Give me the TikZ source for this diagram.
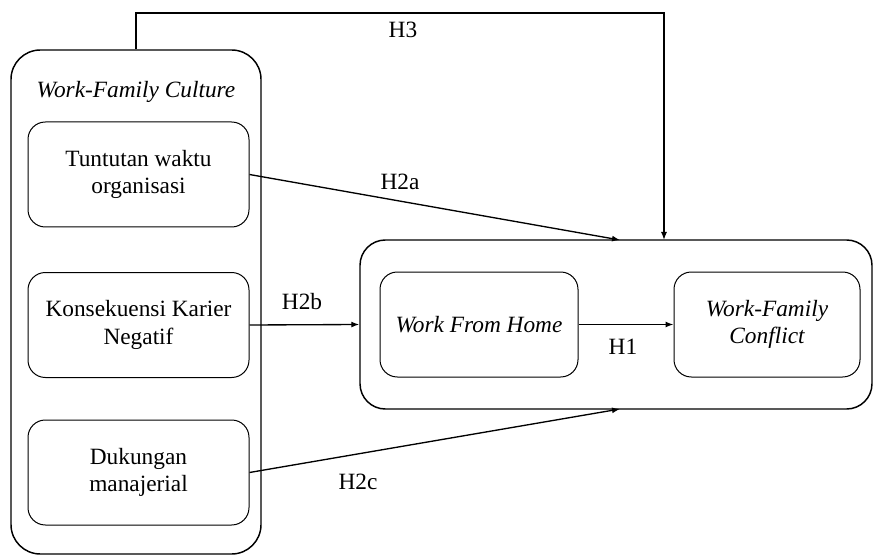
\documentclass[tikz,border=0pt]{standalone}
\usepackage{fontspec}
\setmainfont{Liberation Serif}
\usetikzlibrary{arrows.meta}
\begin{document}
\begin{tikzpicture}[x=0.75pt,y=-0.75pt,
  every node/.style={font=\fontsize{17.5}{20.5}\selectfont},
  outerbox/.style={draw,line width=1.1pt,rounded corners=22pt,inner sep=0pt},
  innerbox/.style={draw,line width=0.75pt,rounded corners=13pt,minimum width=165.75pt,minimum height=78.75pt,inner sep=0pt,align=center},
  conn/.style={line width=1pt,-{Latex[length=6pt,width=4.5pt]}},
  lbl/.style={inner sep=0pt}]
\useasboundingbox (0,0) rectangle (882,556);
\node[outerbox,minimum width=187.5pt,minimum height=378pt] (wfcul) at (136,302) {};
\node[lbl,font=\fontsize{17.5}{20.5}\selectfont\itshape] (title) at (136,92) {Work-Family Culture};
\node[innerbox] (tut) at (138.5,174.5) {Tuntutan waktu\\organisasi};
\node[innerbox] (kon) at (138.5,325) {Konsekuensi Karier\\Negatif};
\node[innerbox] (duk) at (138.5,472.5) {Dukungan\\manajerial};
\node[outerbox,rounded corners=19pt,minimum width=384pt,minimum height=126.75pt] (big) at (616,324.5) {};
\node[innerbox,minimum width=148.5pt,font=\fontsize{17.5}{20.5}\selectfont\itshape] (wfh) at (479,324.5) {Work From Home};
\node[innerbox,minimum width=139.5pt,font=\fontsize{17.5}{20.5}\selectfont\itshape] (wfc) at (767,324.5) {Work-Family\\Conflict};
\coordinate (a2) at (620,240);
\coordinate (a3) at (664,240);
\coordinate (c2) at (620,409);
\draw[conn] (wfcul.north) |- (664,13) -- (a3);
\draw[conn] (tut.east) -- (a2);
\draw[conn] (kon.east) -- (big.west);
\draw[conn] (duk.east) -- (c2);
\draw[conn] (wfh.east) -- (wfc.west);
\node[lbl] (h3) at (403,30) {H3};
\node[lbl] (h2a) at (400,182) {H2a};
\node[lbl] (h2b) at (302,302) {H2b};
\node[lbl] (h2c) at (358,482) {H2c};
\node[lbl] (h1) at (623,347) {H1};
\end{tikzpicture}
\end{document}
